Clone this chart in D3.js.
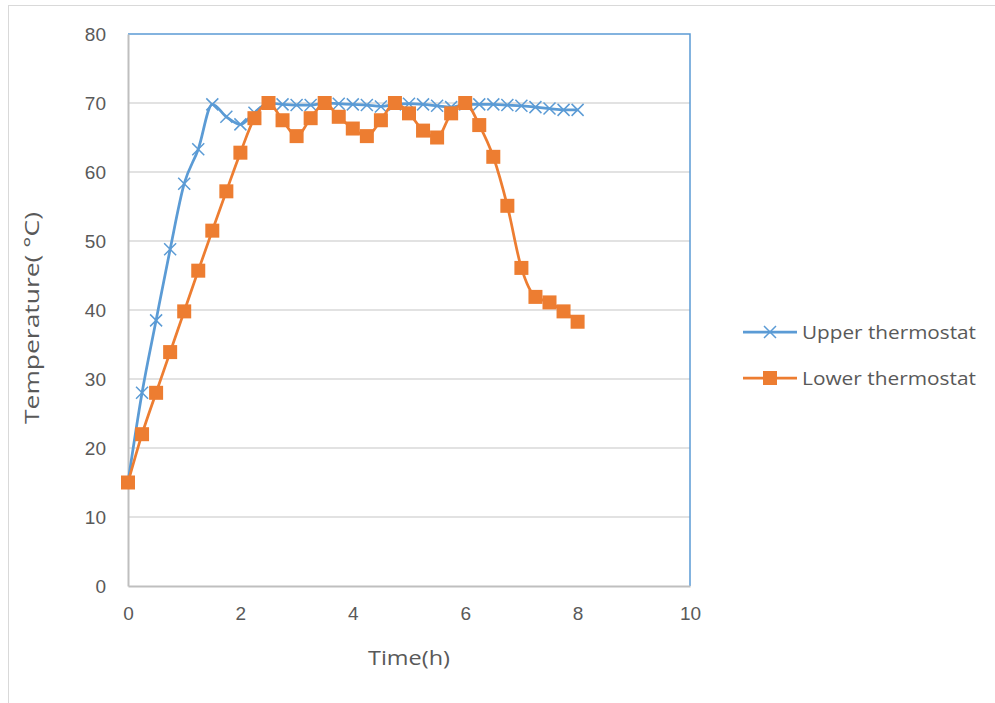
<!DOCTYPE html>
<html>
<head>
<meta charset="utf-8">
<script src="https://cdn.jsdelivr.net/npm/d3@7"></script>
<style>
  html, body { margin: 0; padding: 0; background: #fff; }
  svg { display: block; font-family: "Open Sans", "Noto Sans", sans-serif; }
</style>
</head>
<body>
<svg id="chart" width="995" height="703"></svg>
<script>
// Time in hours, sampled every quarter hour
const timeHours = [0, 0.25, 0.5, 0.75, 1, 1.25, 1.5, 1.75, 2, 2.25, 2.5, 2.75, 3, 3.25, 3.5, 3.75,
  4, 4.25, 4.5, 4.75, 5, 5.25, 5.5, 5.75, 6, 6.25, 6.5, 6.75, 7, 7.25, 7.5, 7.75, 8];

// Temperatures in °C
const upperThermostat = [15, 28, 38.5, 48.8, 58.3, 63.3, 69.8, 68, 66.9, 68.6, 70, 69.8, 69.7, 69.7, 70, 69.9,
  69.8, 69.7, 69.5, 69.8, 69.9, 69.8, 69.6, 69.4, 69.8, 69.8, 69.8, 69.7, 69.6, 69.4, 69.2, 69.0, 69.0];
const lowerThermostat = [15, 22, 28, 33.9, 39.8, 45.7, 51.5, 57.2, 62.8, 67.8, 70, 67.5, 65.2, 67.8, 70, 68,
  66.3, 65.2, 67.5, 70, 68.5, 66, 65, 68.5, 70, 66.8, 62.2, 55.1, 46.1, 41.9, 41.1, 39.8, 38.3];

const seriesNames = ["Upper thermostat", "Lower thermostat"];
const xTicks = [0, 2, 4, 6, 8, 10];
const yTicks = [0, 10, 20, 30, 40, 50, 60, 70, 80];

const blue = "#5B9BD5", orange = "#ED7D31", textColor = "#595959";

const svg = d3.select("#chart");
const plot = { left: 128, top: 34, right: 690, bottom: 586 };

const x = d3.scaleLinear().domain([0, 10]).range([plot.left, plot.right]);
const y = d3.scaleLinear().domain([0, 80]).range([plot.bottom, plot.top]);

// Outer chart frame
svg.append("rect")
  .attr("x", 8.5).attr("y", 5.5).attr("width", 1000).attr("height", 720)
  .attr("fill", "none").attr("stroke", "#D9D9D9").attr("stroke-width", 1);

// Horizontal gridlines
svg.append("g")
  .selectAll("line")
  .data(yTicks.filter(t => t > 0 && t < 80))
  .join("line")
  .attr("x1", plot.left).attr("x2", plot.right)
  .attr("y1", d => y(d)).attr("y2", d => y(d))
  .attr("stroke", "#D9D9D9").attr("stroke-width", 1.5);

// Plot-area border (top and right in blue)
svg.append("path")
  .attr("d", `M${plot.left},${plot.top}H${plot.right}V${plot.bottom}`)
  .attr("fill", "none").attr("stroke", blue).attr("stroke-width", 1.5);

// Axes
const xAxis = svg.append("g")
  .attr("transform", `translate(0,${plot.bottom})`)
  .call(d3.axisBottom(x).tickValues(xTicks).tickSize(0).tickPadding(21).tickFormat(d3.format("d")));
const yAxis = svg.append("g")
  .attr("transform", `translate(${plot.left},0)`)
  .call(d3.axisLeft(y).tickValues(yTicks).tickSize(0).tickPadding(22).tickFormat(d3.format("d")));

[xAxis, yAxis].forEach(g => {
  g.select(".domain").attr("stroke", "#BFBFBF").attr("stroke-width", 2);
  g.selectAll("text").attr("fill", textColor).style("font-size", "19px");
});

// Axis titles
svg.append("text")
  .attr("x", x(5)).attr("y", 665)
  .attr("text-anchor", "middle").attr("fill", textColor).style("font-size", "19.5px")
  .attr("textLength", 82).attr("lengthAdjust", "spacingAndGlyphs")
  .text("Time(h)");
svg.append("text")
  .attr("transform", `translate(39,${(plot.top + plot.bottom) / 2 + 8}) rotate(-90)`)
  .attr("text-anchor", "middle").attr("fill", textColor).style("font-size", "19.5px")
  .attr("textLength", 212).attr("lengthAdjust", "spacingAndGlyphs")
  .text("Temperature( °C)");

const line = d3.line()
  .x(d => x(d[0])).y(d => y(d[1]))
  .curve(d3.curveMonotoneX);

const upperPts = timeHours.map((t, i) => [t, upperThermostat[i]]);
const lowerPts = timeHours.map((t, i) => [t, lowerThermostat[i]]);

// Upper thermostat line and cross markers
svg.append("path").datum(upperPts)
  .attr("d", line).attr("fill", "none").attr("stroke", blue)
  .attr("stroke-width", 2.75).attr("stroke-linejoin", "round");

const crossPath = "M-6,-6L6,6M-6,6L6,-6";
svg.append("g").selectAll("path")
  .data(upperPts).join("path")
  .attr("transform", d => `translate(${x(d[0])},${y(d[1])})`)
  .attr("d", crossPath).attr("stroke", blue).attr("stroke-width", 1.5).attr("fill", "none");

// Lower thermostat line and square markers
svg.append("path").datum(lowerPts)
  .attr("d", line).attr("fill", "none").attr("stroke", orange)
  .attr("stroke-width", 2.75).attr("stroke-linejoin", "round");

svg.append("g").selectAll("rect")
  .data(lowerPts).join("rect")
  .attr("x", d => x(d[0]) - 7).attr("y", d => y(d[1]) - 7)
  .attr("width", 14).attr("height", 14)
  .attr("fill", orange);

// Legend
const legend = svg.append("g");
const legendRows = [
  { name: seriesNames[0], color: blue, marker: "cross", yPos: 332 },
  { name: seriesNames[1], color: orange, marker: "square", yPos: 378 }
];
legendRows.forEach(r => {
  legend.append("line")
    .attr("x1", 743).attr("x2", 797).attr("y1", r.yPos).attr("y2", r.yPos)
    .attr("stroke", r.color).attr("stroke-width", 2.75);
  if (r.marker === "cross") {
    legend.append("path").attr("transform", `translate(770,${r.yPos})`)
      .attr("d", crossPath).attr("stroke", r.color).attr("stroke-width", 1.5);
  } else {
    legend.append("rect").attr("x", 763).attr("y", r.yPos - 7)
      .attr("width", 14).attr("height", 14).attr("fill", r.color);
  }
  legend.append("text")
    .attr("x", 802).attr("y", r.yPos).attr("dy", "0.35em")
    .attr("fill", textColor).style("font-size", "19px")
    .attr("textLength", 174).attr("lengthAdjust", "spacingAndGlyphs")
    .text(r.name);
});
</script>
</body>
</html>
